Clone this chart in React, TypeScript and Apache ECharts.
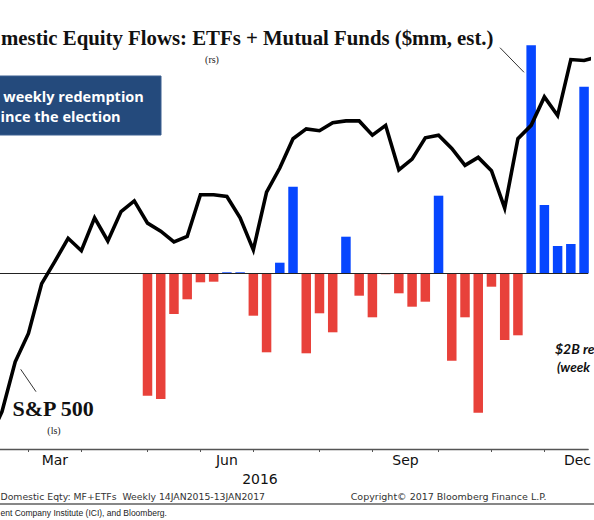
import React, { useEffect, useRef } from "react";
import * as echarts from "echarts";

// Weekly observation dates (category axis, position = index)
const weeks: string[] = [
  "2016-02-12", "2016-02-19", "2016-02-26",
  "2016-03-04", "2016-03-11", "2016-03-18", "2016-03-25",
  "2016-04-01", "2016-04-08", "2016-04-15", "2016-04-22", "2016-04-29",
  "2016-05-06", "2016-05-13", "2016-05-20", "2016-05-27",
  "2016-06-03", "2016-06-10", "2016-06-17", "2016-06-24",
  "2016-07-01", "2016-07-08", "2016-07-15", "2016-07-22", "2016-07-29",
  "2016-08-05", "2016-08-12", "2016-08-19", "2016-08-26",
  "2016-09-02", "2016-09-09", "2016-09-16", "2016-09-23", "2016-09-30",
  "2016-10-07", "2016-10-14", "2016-10-21", "2016-10-28",
  "2016-11-04", "2016-11-11", "2016-11-18", "2016-11-25",
  "2016-12-02", "2016-12-09", "2016-12-16", "2016-12-23", "2016-12-30",
];

// S&P 500 (left scale)
const spx: number[] = [
  1830, 1862, 1918, 1950, 2006, 2031, 2057, 2043, 2080, 2054, 2087, 2099,
  2074, 2065, 2053, 2059, 2106, 2106, 2104, 2080, 2044, 2109, 2136, 2169,
  2180, 2178, 2187, 2189, 2189, 2173, 2184, 2134, 2146, 2170, 2173, 2158,
  2139, 2148, 2133, 2091, 2169, 2184, 2216, 2195, 2258, 2257, 2261,
];

// Domestic equity flows, ETFs + mutual funds ($mm, right scale)
const flows: (number | null)[] = [
  null, null, null, null, null, null, null, null, null, null, null, null,
  -12240, -12570, -4070, -2600, -900, -840, 100, 100, -4240, -7900,
  1060, 8660, -8000, -4000, -5900, 3660, -2240, -4400, -100, -2000,
  -3340, -2840, 7760, -8740, -4400, -13940, -1340, -6670, -6200, 22800,
  6830, 2730, 2930, 18660, null,
];

// Axis ticks / labels (positions in week-index units)
const monthStartPos: number[] = [3, 7, 12, 16, 20, 25, 29, 34, 38, 42, 47];
const quarterLabels: string[] = ["Mar", "Jun", "Sep", "Dec"];
const quarterLabelPos: number[] = [5, 18, 31.5, 44.5];
const yearLabels: string[] = ["2016"];
const yearLabelPos: number[] = [20.5];

const BLUE = "#0646FF";
const RED = "#E8413A";
const X_MIN = 0.8503;
const X_MAX = 45.311;

function labelAt(positions: number[], names: string[], v: number): string {
  let best = 0;
  for (let i = 1; i < positions.length; i++) {
    if (Math.abs(positions[i] - v) < Math.abs(positions[best] - v)) best = i;
  }
  return names[best];
}

export default function App() {
  const ref = useRef<HTMLDivElement>(null);

  useEffect(() => {
    if (!ref.current) return;
    const chart = echarts.init(ref.current, undefined, { renderer: "svg" });

    const barData = flows
      .map((v, k) =>
        v == null
          ? null
          : { value: [k, v], itemStyle: { color: v >= 0 ? BLUE : RED } }
      )
      .filter((d) => d !== null);

    const lineData = spx.map((v, k) => [k, v]);

    const serif = "'Liberation Serif', 'Times New Roman', serif";

    chart.setOption({
      animation: false,
      backgroundColor: "#ffffff",
      grid: { left: 0, right: 0, top: 40, height: 409 },
      xAxis: [
        {
          type: "value",
          min: X_MIN,
          max: X_MAX,
          position: "bottom",
          splitLine: { show: false },
          axisLine: { show: true, onZero: false, lineStyle: { color: "#555", width: 1.3 } },
          axisTick: {
            show: true,
            customValues: monthStartPos,
            length: 3,
            lineStyle: { color: "#555", width: 1 },
          },
          axisLabel: {
            customValues: quarterLabelPos,
            formatter: (v: number) => labelAt(quarterLabelPos, quarterLabels, v),
            fontFamily: "DejaVu Sans",
            fontSize: 14,
            color: "#111",
            margin: 4,
          },
        },
        {
          type: "value",
          min: X_MIN,
          max: X_MAX,
          position: "bottom",
          offset: 19,
          splitLine: { show: false },
          axisLine: { show: false },
          axisTick: { show: false },
          axisLabel: {
            customValues: yearLabelPos,
            formatter: (v: number) => labelAt(yearLabelPos, yearLabels, v),
            fontFamily: "DejaVu Sans",
            fontSize: 14,
            color: "#111",
            margin: 4,
          },
        },
      ],
      yAxis: [
        { type: "value", min: 1820, max: 2280, show: false },
        { type: "value", min: -17570, max: 23330, show: false },
      ],
      series: [
        {
          type: "bar",
          name: "Flows",
          xAxisIndex: 0,
          yAxisIndex: 1,
          barWidth: 9.5,
          data: barData,
          markLine: {
            silent: true,
            symbol: ["none", "none"],
            label: { show: false },
            lineStyle: { color: "#222", width: 1.1, type: "solid" },
            data: [{ yAxis: 0 }],
          },
        },
        {
          type: "line",
          name: "S&P 500",
          xAxisIndex: 0,
          yAxisIndex: 0,
          data: lineData,
          symbol: "none",
          lineStyle: { color: "#000", width: 3.6, join: "miter" },
          z: 5,
        },
      ],
      graphic: [
        {
          type: "text",
          x: 1,
          y: 37.5,
          style: {
            text: "mestic Equity Flows: ETFs + Mutual Funds ($mm, est.)",
            font: `bold 20.8px ${serif}`,
            fill: "#111",
            align: "left",
            verticalAlign: "middle",
          },
        },
        {
          type: "text",
          x: 212,
          y: 59,
          style: { text: "(rs)", font: `10px ${serif}`, fill: "#222", align: "center", verticalAlign: "middle" },
        },
        {
          type: "line",
          shape: { x1: 500, y1: 47.7, x2: 524, y2: 72.3 },
          style: { stroke: "#333", lineWidth: 1 },
        },
        {
          type: "text",
          x: 12.5,
          y: 408,
          style: { text: "S&P 500", font: `bold 22px ${serif}`, fill: "#111", align: "left", verticalAlign: "middle" },
        },
        {
          type: "text",
          x: 54,
          y: 430,
          style: { text: "(ls)", font: `10px ${serif}`, fill: "#222", align: "center", verticalAlign: "middle" },
        },
        {
          type: "line",
          shape: { x1: 20.7, y1: 369.3, x2: 36, y2: 391.7 },
          style: { stroke: "#333", lineWidth: 1 },
        },
        {
          type: "rect",
          shape: { x: -10, y: 76, width: 171, height: 59 },
          style: { fill: "#244A7C", stroke: "#3A5F90", lineWidth: 1 },
        },
        {
          type: "text",
          x: 3.3,
          y: 96,
          style: { text: "weekly redemption", font: "bold 14.5px 'Open Sans'", fill: "#ffffff", align: "left", verticalAlign: "middle" },
        },
        {
          type: "text",
          x: 0.5,
          y: 116.5,
          style: { text: "ince the election", font: "bold 14.5px 'Open Sans'", fill: "#ffffff", align: "left", verticalAlign: "middle" },
        },
        {
          type: "text",
          x: 555,
          y: 348,
          style: { text: "$2B re", font: "italic bold 14px Lato", fill: "#111", align: "left", verticalAlign: "middle" },
        },
        {
          type: "text",
          x: 557,
          y: 366.5,
          style: { text: "(week", font: "italic bold 13.5px Lato", fill: "#111", align: "left", verticalAlign: "middle" },
        },
        {
          type: "text",
          x: 0.5,
          y: 496.5,
          style: {
            text: "Domestic Eqty: MF+ETFs  Weekly 14JAN2015-13JAN2017",
            font: "9.3px 'DejaVu Sans'",
            fill: "#333",
            align: "left",
            verticalAlign: "middle",
          },
        },
        {
          type: "text",
          x: 350.7,
          y: 496.5,
          style: {
            text: "Copyright\u00A9 2017 Bloomberg Finance L.P.",
            font: "9.5px 'DejaVu Sans'",
            fill: "#333",
            align: "left",
            verticalAlign: "middle",
          },
        },
        {
          type: "line",
          shape: { x1: 0, y1: 504, x2: 594, y2: 504 },
          style: { stroke: "#111", lineWidth: 1.2 },
        },
        {
          type: "text",
          x: 0.5,
          y: 512.5,
          style: {
            text: "ent Company Institute (ICI), and Bloomberg.",
            font: "8.5px 'Liberation Sans'",
            fill: "#222",
            align: "left",
            verticalAlign: "middle",
          },
        },
      ],
    });

    return () => chart.dispose();
  }, []);

  return (
    <div
      ref={ref}
      style={{ position: "fixed", left: 0, top: 0, width: 594, height: 520, background: "#fff" }}
    />
  );
}
